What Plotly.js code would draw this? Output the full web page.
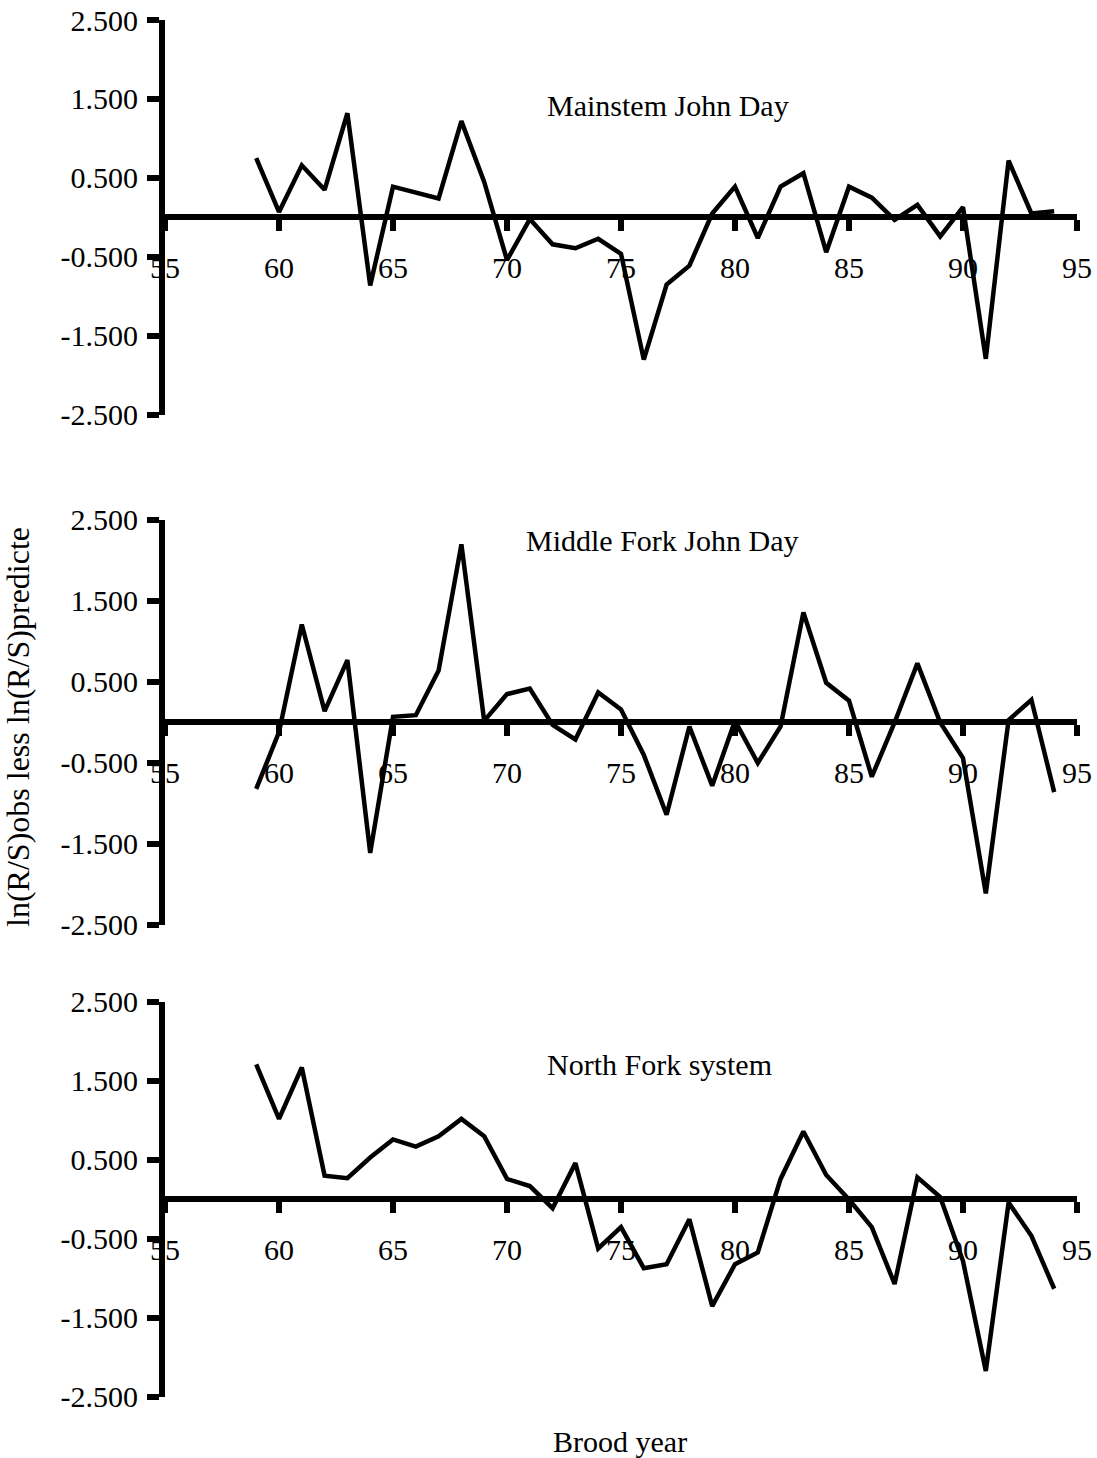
<!DOCTYPE html>
<html>
<head>
<meta charset="utf-8">
<script src="https://cdn.plot.ly/plotly-3.0.1.min.js"></script>
<style>
  html, body { margin: 0; padding: 0; background: #ffffff; }
  #chart { width: 1097px; height: 1458px; }
</style>
</head>
<body>
<div id="chart"></div>
<script>
// ---- Data ----
const broodYears = [59,60,61,62,63,64,65,66,67,68,69,70,71,72,73,74,75,76,77,78,79,80,81,82,83,84,85,86,87,88,89,90,91,92,93,94];

const mainstemJohnDay = [0.75,0.07,0.66,0.35,1.32,-0.86,0.39,0.31,0.24,1.22,0.45,-0.54,-0.02,-0.34,-0.39,-0.27,-0.46,-1.80,-0.85,-0.61,0.05,0.39,-0.26,0.39,0.56,-0.44,0.39,0.25,-0.03,0.16,-0.24,0.13,-1.79,0.72,0.05,0.08];

const middleForkJohnDay = [-0.82,-0.12,1.21,0.14,0.77,-1.61,0.07,0.09,0.64,2.20,0.02,0.35,0.42,-0.03,-0.21,0.37,0.16,-0.40,-1.14,-0.05,-0.78,0.02,-0.50,-0.05,1.36,0.49,0.27,-0.67,0.00,0.73,0.00,-0.44,-2.11,0.03,0.28,-0.86];

const northForkSystem = [1.71,1.02,1.67,0.30,0.27,0.53,0.76,0.67,0.80,1.02,0.80,0.26,0.17,-0.11,0.46,-0.62,-0.35,-0.87,-0.82,-0.25,-1.35,-0.82,-0.67,0.26,0.86,0.31,0.00,-0.35,-1.07,0.28,0.03,-0.78,-2.17,-0.04,-0.46,-1.13];

const panelNames = ["Mainstem John Day", "Middle Fork John Day", "North Fork system"];

const yTickVals = [2.5, 1.5, 0.5, -0.5, -1.5, -2.5];
const yTickText = ["2.500", "1.500", "0.500", "-0.500", "-1.500", "-2.500"];
const xTickVals = [55, 60, 65, 70, 75, 80, 85, 90, 95];
const xTickText = ["55", "60", "65", "70", "75", "80", "85", "90", "95"];

const yTitleText = "ln(R/S)obs less ln(R/S)predicte";
const xTitleText = "Brood year";

// ---- Layout helpers ----
const FONT = "Liberation Serif, Times New Roman, serif";
const series = [mainstemJohnDay, middleForkJohnDay, northForkSystem];
const domains = [[0.7132, 1.0], [0.3428, 0.6369], [0.0, 0.2869]];
const labelPos = [[77.07, 1.42], [76.8, 2.25], [76.7, 1.71]];

const traces = series.map((vals, i) => ({
  type: "scatter",
  mode: "lines",
  x: broodYears,
  y: vals,
  xaxis: i === 0 ? "x" : "x" + (i + 1),
  yaxis: i === 0 ? "y" : "y" + (i + 1),
  line: { color: "#000000", width: 4.5 },
  showlegend: false,
  hoverinfo: "x+y"
}));

const layout = {
  width: 1097,
  height: 1458,
  margin: { l: 165, r: 20, t: 20, b: 61 },
  paper_bgcolor: "#ffffff",
  plot_bgcolor: "#ffffff",
  font: { family: FONT, size: 30, color: "#000000" },
  showlegend: false,
  annotations: []
};

domains.forEach((dom, i) => {
  const xk = i === 0 ? "xaxis" : "xaxis" + (i + 1);
  const yk = i === 0 ? "yaxis" : "yaxis" + (i + 1);
  const xr = i === 0 ? "x" : "x" + (i + 1);
  const yr = i === 0 ? "y" : "y" + (i + 1);
  layout[xk] = {
    range: [55, 95],
    domain: [0, 1],
    anchor: "free",
    position: (dom[0] + dom[1]) / 2,
    tickmode: "array",
    tickvals: xTickVals,
    ticktext: xTickText,
    ticks: "outside",
    ticklen: 11,
    tickwidth: 6,
    tickcolor: "#000000",
    showline: true,
    linewidth: 6,
    linecolor: "#000000",
    showgrid: false,
    zeroline: false,
    ticklabelstandoff: 11,
    tickfont: { family: FONT, size: 30, color: "#000000" },
    fixedrange: true
  };
  layout[yk] = {
    range: [-2.5, 2.5],
    domain: dom,
    anchor: xr,
    tickmode: "array",
    tickvals: yTickVals,
    ticktext: yTickText,
    ticks: "outside",
    ticklen: 12,
    tickwidth: 6,
    tickcolor: "#000000",
    showline: true,
    linewidth: 6,
    linecolor: "#000000",
    showgrid: false,
    zeroline: false,
    ticklabelstandoff: 3,
    tickfont: { family: FONT, size: 30, color: "#000000" },
    fixedrange: true
  };
  layout.annotations.push({
    text: panelNames[i],
    xref: xr,
    yref: yr,
    x: labelPos[i][0],
    y: labelPos[i][1],
    showarrow: false,
    font: { family: FONT, size: 30, color: "#000000" }
  });
});

layout.annotations.push({
  text: yTitleText,
  xref: "paper",
  yref: "paper",
  x: -0.1612,
  y: 0.4866,
  xanchor: "center",
  yanchor: "middle",
  textangle: -90,
  showarrow: false,
  font: { family: FONT, size: 32, color: "#000000" }
});
layout.annotations.push({
  text: xTitleText,
  xref: "paper",
  yref: "paper",
  x: 0.4989,
  y: -0.032,
  xanchor: "center",
  yanchor: "middle",
  showarrow: false,
  font: { family: FONT, size: 30, color: "#000000" }
});

Plotly.newPlot("chart", traces, layout, { displayModeBar: false, staticPlot: true });
</script>
</body>
</html>
